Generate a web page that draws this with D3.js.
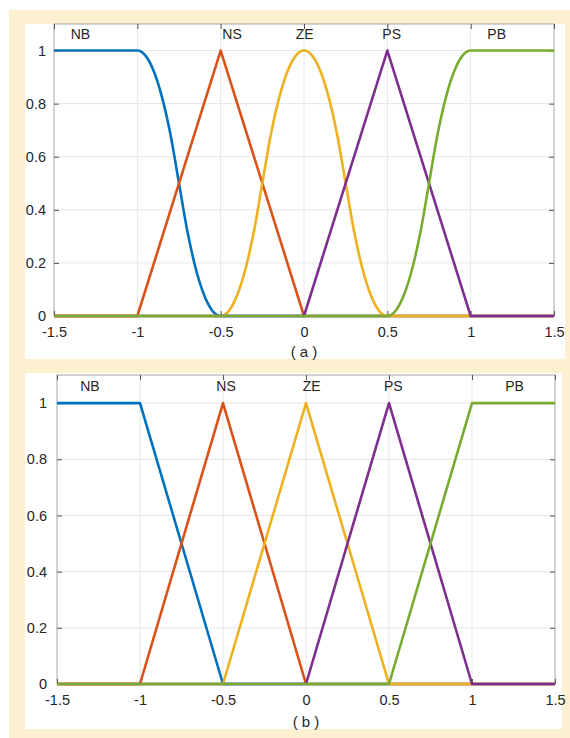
<!DOCTYPE html>
<html>
<head>
<meta charset="utf-8">
<script src="https://cdn.jsdelivr.net/npm/d3@7"></script>
<style>
  body { margin: 0; background: #fff; }
  text { font-family: "Liberation Sans", Arial, sans-serif; fill: #262626; }
</style>
</head>
<body>
<div id="chart"></div>
<script>
// fuzzy membership functions, two variants

var names = ["NB", "NS", "ZE", "PS", "PB"];
var colors = ["#0072BD", "#D95319", "#EDB120", "#7E2F8E", "#77AC30"];
var xTicks = [-1.5, -1, -0.5, 0, 0.5, 1, 1.5];
var yTicks = [0, 0.2, 0.4, 0.6, 0.8, 1];

// (a) smooth shapes
var nbA_x = [-1.5, -1, -0.95, -0.9, -0.85, -0.8, -0.75, -0.7, -0.65, -0.6, -0.55, -0.5, 1.5];
var nbA_y = [1, 1, 0.98, 0.92, 0.82, 0.68, 0.5, 0.32, 0.18, 0.08, 0.02, 0, 0];
var nsA_x = [-1.5, -1, -0.5, 0, 1.5];
var nsA_y = [0, 0, 1, 0, 0];
var zeA_x = [-1.5, -0.5, -0.45, -0.4, -0.35, -0.3, -0.25, -0.2, -0.15, -0.1, -0.05, 0,
             0.05, 0.1, 0.15, 0.2, 0.25, 0.3, 0.35, 0.4, 0.45, 0.5, 1.5];
var zeA_y = [0, 0, 0.02, 0.08, 0.18, 0.32, 0.5, 0.68, 0.82, 0.92, 0.98, 1,
             0.98, 0.92, 0.82, 0.68, 0.5, 0.32, 0.18, 0.08, 0.02, 0, 0];
var psA_x = [-1.5, 0, 0.5, 1, 1.5];
var psA_y = [0, 0, 1, 0, 0];
var pbA_x = [-1.5, 0.5, 0.55, 0.6, 0.65, 0.7, 0.75, 0.8, 0.85, 0.9, 0.95, 1, 1.5];
var pbA_y = [0, 0, 0.02, 0.08, 0.18, 0.32, 0.5, 0.68, 0.82, 0.92, 0.98, 1, 1];

// (b) piecewise linear
var nbB_x = [-1.5, -1, -0.5, 1.5];
var nbB_y = [1, 1, 0, 0];
var nsB_x = [-1.5, -1, -0.5, 0, 1.5];
var nsB_y = [0, 0, 1, 0, 0];
var zeB_x = [-1.5, -0.5, 0, 0.5, 1.5];
var zeB_y = [0, 0, 1, 0, 0];
var psB_x = [-1.5, 0, 0.5, 1, 1.5];
var psB_y = [0, 0, 1, 0, 0];
var pbB_x = [-1.5, 0.5, 1, 1.5];
var pbB_y = [0, 0, 1, 1];

// where the set names sit (data units)
var labelA_x = [-1.4, -0.49, -0.05, 0.47, 1.1];
var labelB_x = [-1.36, -0.54, -0.02, 0.47, 1.2];

var width = 570, height = 738;

var svg = d3.select("#chart").append("svg")
    .attr("width", width)
    .attr("height", height);

// cream frame with white panels
svg.append("rect").attr("x", 9).attr("y", 10).attr("width", 561).attr("height", 728).attr("fill", "#fdf0d1");
svg.append("rect").attr("x", 25).attr("y", 24).attr("width", 540).attr("height", 335).attr("fill", "#fff");
svg.append("rect").attr("x", 25).attr("y", 373).attr("width", 537).attr("height", 356).attr("fill", "#fff");

function zip(xs, ys) {
  return xs.map(function(x, i) { return [x, ys[i]]; });
}

function panel(opt) {
  var x = d3.scaleLinear().domain([-1.5, 1.5]).range([opt.left, opt.right]);
  var y = d3.scaleLinear().domain([0, 1.1]).range([opt.bottom, opt.top]);
  var g = svg.append("g");

  // grid
  g.selectAll(".vg").data(xTicks.slice(1, -1)).enter().append("line")
      .attr("x1", function(d) { return x(d); }).attr("x2", function(d) { return x(d); })
      .attr("y1", opt.top).attr("y2", opt.bottom)
      .attr("stroke", "#e6e6e6").attr("stroke-width", 1);
  g.selectAll(".hg").data(yTicks.slice(1)).enter().append("line")
      .attr("y1", function(d) { return y(d); }).attr("y2", function(d) { return y(d); })
      .attr("x1", opt.left).attr("x2", opt.right)
      .attr("stroke", "#e6e6e6").attr("stroke-width", 1);

  // box + inward ticks
  g.append("rect").attr("x", opt.left).attr("y", opt.top)
      .attr("width", opt.right - opt.left).attr("height", opt.bottom - opt.top)
      .attr("fill", "none").attr("stroke", "#a6a6a6").attr("stroke-width", 1);

  var axB = g.append("g").attr("transform", "translate(0," + opt.bottom + ")")
      .call(d3.axisBottom(x).tickValues(xTicks).tickSizeInner(-5).tickSizeOuter(0).tickPadding(11)
        .tickFormat(function(d) { return String(d); }));
  var axT = g.append("g").attr("transform", "translate(0," + opt.top + ")")
      .call(d3.axisTop(x).tickValues(xTicks).tickSizeInner(-5).tickSizeOuter(0).tickFormat(""));
  var axL = g.append("g").attr("transform", "translate(" + opt.left + ",0)")
      .call(d3.axisLeft(y).tickValues(yTicks).tickSizeInner(-5).tickSizeOuter(0).tickPadding(opt.ypad)
        .tickFormat(function(d) { return String(+d.toFixed(1)); }));
  var axR = g.append("g").attr("transform", "translate(" + opt.right + ",0)")
      .call(d3.axisRight(y).tickValues(yTicks).tickSizeInner(-5).tickSizeOuter(0).tickFormat(""));

  [axB, axT, axL, axR].forEach(function(a) {
    a.select(".domain").remove();
    a.selectAll("line").attr("stroke", "#555");
    a.selectAll("text").attr("font-size", 14.5).attr("fill", "#262626")
      .attr("font-family", "Liberation Sans, Arial, sans-serif");
  });

  // curves
  opt.series.forEach(function(s, i) {
    var line = d3.line()
        .x(function(d) { return x(d[0]); })
        .y(function(d) { return y(d[1]); })
        .curve(s.smooth ? d3.curveMonotoneX : d3.curveLinear);
    g.append("path")
        .datum(zip(s.xs, s.ys))
        .attr("d", line)
        .attr("fill", "none")
        .attr("stroke", colors[i])
        .attr("stroke-width", 2.6)
        .attr("stroke-linejoin", "round");
  });

  // set names
  g.selectAll(".nm").data(names).enter().append("text")
      .attr("x", function(d, i) { return x(opt.labelX[i]); })
      .attr("y", y(1.05) + 2)
      .attr("font-size", 14)
      .text(function(d) { return d; });

  // caption
  g.append("text")
      .attr("x", x(0)).attr("y", opt.capY)
      .attr("text-anchor", "middle")
      .attr("font-size", 15)
      .attr("fill", "#000")
      .style("white-space", "pre")
      .text(opt.caption);
}

panel({
  left: 54, right: 554, top: 24, bottom: 316, ypad: 8, capY: 357,
  caption: "( a )", labelX: labelA_x,
  series: [
    { xs: nbA_x, ys: nbA_y, smooth: true },
    { xs: nsA_x, ys: nsA_y },
    { xs: zeA_x, ys: zeA_y, smooth: true },
    { xs: psA_x, ys: psA_y },
    { xs: pbA_x, ys: pbA_y, smooth: true }
  ]
});

panel({
  left: 57, right: 555, top: 375, bottom: 684, ypad: 10, capY: 727,
  caption: "( b )", labelX: labelB_x,
  series: [
    { xs: nbB_x, ys: nbB_y },
    { xs: nsB_x, ys: nsB_y },
    { xs: zeB_x, ys: zeB_y },
    { xs: psB_x, ys: psB_y },
    { xs: pbB_x, ys: pbB_y }
  ]
});
</script>
</body>
</html>
